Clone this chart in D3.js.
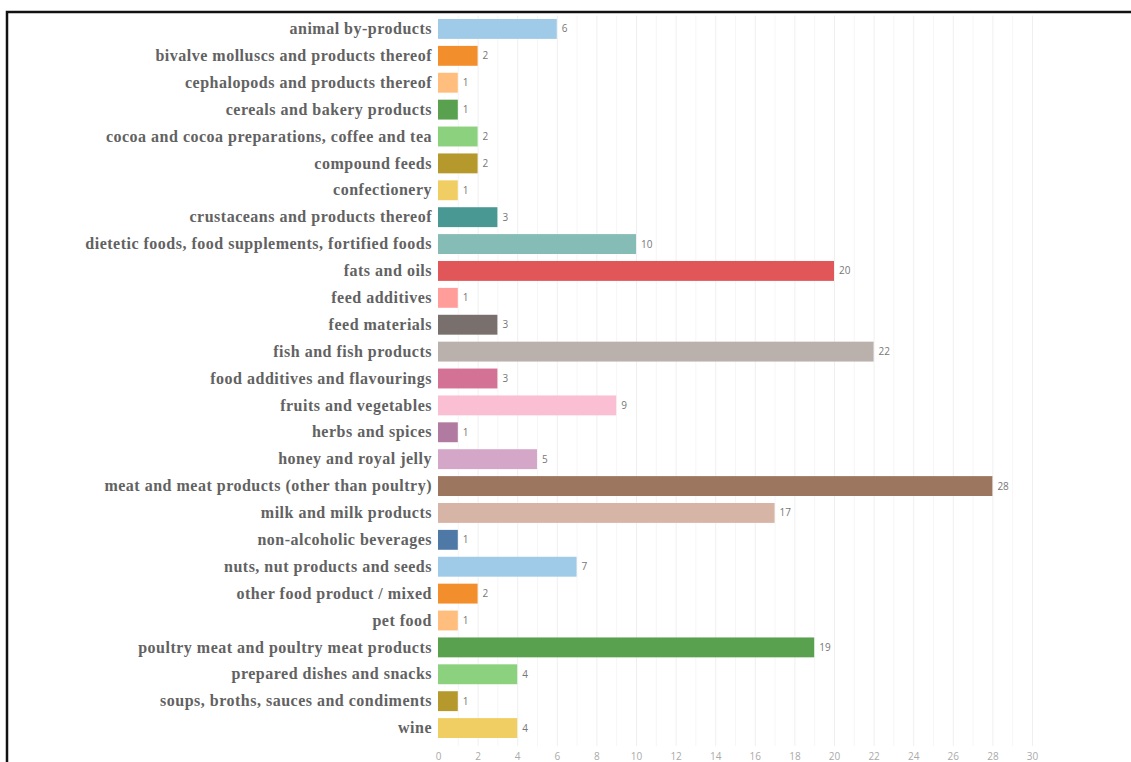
<!DOCTYPE html>
<html>
<head>
<meta charset="utf-8">
<script src="https://cdn.jsdelivr.net/npm/d3@7"></script>
<style>
  html, body { margin: 0; padding: 0; background: #fff; overflow: hidden; }
  svg { display: block; }
</style>
</head>
<body>
<svg id="chart" width="1131" height="762"></svg>
<script>
// Notifications per product category
const categories = [
  "animal by-products",
  "bivalve molluscs and products thereof",
  "cephalopods and products thereof",
  "cereals and bakery products",
  "cocoa and cocoa preparations, coffee and tea",
  "compound feeds",
  "confectionery",
  "crustaceans and products thereof",
  "dietetic foods, food supplements, fortified foods",
  "fats and oils",
  "feed additives",
  "feed materials",
  "fish and fish products",
  "food additives and flavourings",
  "fruits and vegetables",
  "herbs and spices",
  "honey and royal jelly",
  "meat and meat products (other than poultry)",
  "milk and milk products",
  "non-alcoholic beverages",
  "nuts, nut products and seeds",
  "other food product / mixed",
  "pet food",
  "poultry meat and poultry meat products",
  "prepared dishes and snacks",
  "soups, broths, sauces and condiments",
  "wine"
];
const counts = [6, 2, 1, 1, 2, 2, 1, 3, 10, 20, 1, 3, 22, 3, 9, 1, 5, 28, 17, 1, 7, 2, 1, 19, 4, 1, 4];
const xTicks = [0, 2, 4, 6, 8, 10, 12, 14, 16, 18, 20, 22, 24, 26, 28, 30];

// Tableau 20 palette, assigned in category order starting from the light blue
const palette = [
  "#4e79a7", "#a0cbe8", "#f28e2b", "#ffbe7d", "#59a14f", "#8cd17d", "#b6992d", "#f1ce63",
  "#499894", "#86bcb6", "#e15759", "#ff9d9a", "#79706e", "#bab0ac", "#d37295", "#fabfd2",
  "#b07aa1", "#d4a6c8", "#9d7660", "#d7b5a6"
];
const colorOf = i => palette[(i + 1) % palette.length];

const data = categories.map((c, i) => ({ category: c, value: counts[i], color: colorOf(i) }));

const svg = d3.select("#chart");
const W = 1131, H = 762;

const plot = { left: 438, right: 1032, top: 15.5, bottom: 741.5 };

const x = d3.scaleLinear().domain([0, 30]).range([plot.left, plot.right]);
const y = d3.scaleBand()
  .domain(categories)
  .range([plot.top, plot.bottom])
  .paddingInner(0.26)
  .paddingOuter(0.13);

// Frame around the view
svg.append("path")
  .attr("d", `M7,${H + 5} V12 H${W + 5}`)
  .attr("fill", "none")
  .attr("stroke", "#111")
  .attr("stroke-width", 2.5);

// Vertical gridlines (every unit, very faint)
const gridG = svg.append("g");
gridG.selectAll("line")
  .data(d3.range(1, 31))
  .join("line")
  .attr("x1", d => x(d) + 0.5)
  .attr("x2", d => x(d) + 0.5)
  .attr("y1", plot.top)
  .attr("y2", 746)
  .attr("stroke", d => d % 2 === 0 ? "#efefef" : "#f6f6f6")
  .attr("stroke-width", 1);

// Bars
svg.append("g")
  .selectAll("rect")
  .data(data)
  .join("rect")
  .attr("x", x(0))
  .attr("y", d => y(d.category))
  .attr("width", d => x(d.value) - x(0))
  .attr("height", y.bandwidth())
  .attr("fill", d => d.color);

// Value labels at bar ends
svg.append("g")
  .selectAll("text")
  .data(data)
  .join("text")
  .attr("x", d => x(d.value) + 5)
  .attr("y", d => y(d.category) + y.bandwidth() / 2)
  .attr("dy", "0.35em")
  .attr("font-family", "'Open Sans', 'DejaVu Sans', sans-serif")
  .attr("font-size", 10)
  .attr("fill", "#777")
  .text(d => d.value);

// Category axis
const yAxis = svg.append("g")
  .attr("transform", `translate(${plot.left},0)`)
  .call(d3.axisLeft(y).tickSize(0).tickPadding(6));
yAxis.select(".domain").remove();
yAxis.selectAll("text")
  .attr("font-family", "'Liberation Serif', 'Times New Roman', serif")
  .attr("font-weight", "bold")
  .attr("font-size", 16)
  .attr("letter-spacing", "0.5px")
  .attr("fill", "#626262");

// Value axis
const xAxis = svg.append("g")
  .attr("transform", `translate(0,749)`)
  .call(d3.axisBottom(x).tickValues(xTicks).tickSize(0).tickPadding(4));
xAxis.select(".domain").remove();
xAxis.selectAll("text")
  .attr("font-family", "'Open Sans', 'DejaVu Sans', sans-serif")
  .attr("font-size", 10)
  .attr("fill", "#aaa");
</script>
</body>
</html>
